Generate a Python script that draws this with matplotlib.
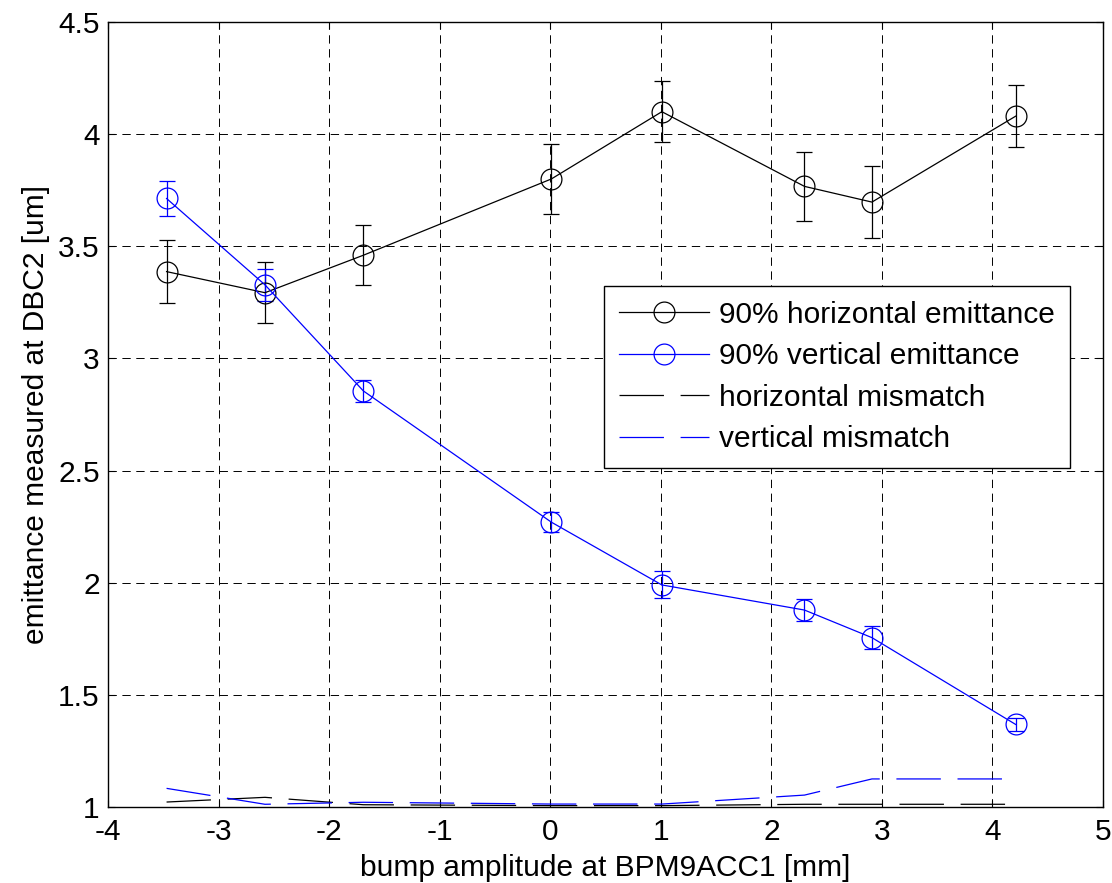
#!/usr/bin/env python3

import numpy as np
import matplotlib
matplotlib.use('Agg')
import matplotlib.pyplot as plt
from matplotlib.lines import Line2D

plt.rcParams['font.family'] = ['Liberation Sans', 'DejaVu Sans']
plt.rcParams['lines.scale_dashes'] = False
plt.rcParams['axes.unicode_minus'] = False

# bump amplitude [mm]
bump = [-3.47, -2.58, -1.69, 0.01, 1.01, 2.30, 2.91, 4.21]

# 90% emittance [um] and error bars
h_emit = [3.387, 3.293, 3.460, 3.800, 4.100, 3.767, 3.697, 4.080]
h_err = [0.142, 0.135, 0.133, 0.154, 0.137, 0.153, 0.159, 0.138]
v_emit = [3.713, 3.328, 2.855, 2.270, 1.990, 1.878, 1.755, 1.368]
v_err = [0.080, 0.070, 0.050, 0.045, 0.060, 0.050, 0.050, 0.030]

# mismatch parameters
h_mis = [1.022, 1.043, 1.010, 1.006, 1.006, 1.012, 1.012, 1.012]
v_mis = [1.083, 1.012, 1.021, 1.013, 1.013, 1.053, 1.125, 1.125]

fs = 21.5
dash = (0, (32, 12))

fig = plt.figure(figsize=(11.12, 8.83), dpi=100)
ax = fig.add_axes([0.0971, 0.0861, 0.8948, 0.889])

ax.errorbar(bump, h_emit, yerr=h_err, color='k', lw=0.9, marker='o', ms=15,
            mfc='none', mew=0.9, capsize=6, elinewidth=0.9, capthick=0.9)
ax.errorbar(bump, v_emit, yerr=v_err, color='b', lw=0.9, marker='o', ms=15,
            mfc='none', mew=0.9, capsize=6, elinewidth=0.9, capthick=0.9)
ax.plot(bump, h_mis, color='k', lw=0.9, ls=dash)
ax.plot(bump, v_mis, color='b', lw=0.9, ls=dash)

ax.set_xlim(-4, 5)
ax.set_ylim(1, 4.5)
ax.set_xticks(np.arange(-4, 6, 1))
ax.set_yticks(np.arange(1, 4.51, 0.5))
ax.set_yticklabels(['1', '1.5', '2', '2.5', '3', '3.5', '4', '4.5'])
ax.grid(True, color='k', ls=(0, (6, 4)), lw=0.7)
ax.tick_params(direction='in', top=True, right=True, length=5, labelsize=fs, width=0.8)
ax.tick_params(axis='x', pad=8)
ax.tick_params(axis='y', pad=6)
for s in ax.spines.values():
    s.set_linewidth(1.0)

ax.set_xlabel('bump amplitude at BPM9ACC1 [mm]', fontsize=fs, labelpad=6)
ax.set_ylabel('emittance measured at DBC2 [um]', fontsize=fs, labelpad=6)

handles = [
    Line2D([], [], color='k', lw=0.9, marker='o', ms=15, mfc='none', mew=0.9),
    Line2D([], [], color='b', lw=0.9, marker='o', ms=15, mfc='none', mew=0.9),
    Line2D([], [], color='k', lw=0.9, ls=dash),
    Line2D([], [], color='b', lw=0.9, ls=dash),
]
labels = ['90% horizontal emittance', '90% vertical emittance',
          'horizontal mismatch', 'vertical mismatch']
leg = ax.legend(handles, labels, loc='upper right', bbox_to_anchor=(0.967, 0.664),
                fontsize=fs, frameon=True, fancybox=False, framealpha=1,
                edgecolor='k', handlelength=3.0, handletextpad=0.35,
                labelspacing=0.45, borderpad=0.5, borderaxespad=0)
leg.get_frame().set_linewidth(1.0)

fig.savefig('out.png', dpi=100)
